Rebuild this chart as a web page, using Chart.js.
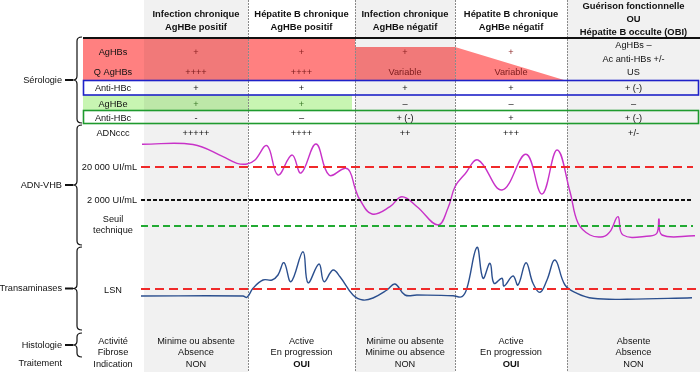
<!DOCTYPE html>
<html>
<head>
<meta charset="utf-8">
<script src="https://cdn.jsdelivr.net/npm/chart.js@4.4.0/dist/chart.umd.min.js"></script>
<style>
html, body { margin: 0; padding: 0; background: #fff; }
#wrap { width: 700px; height: 372px; }
</style>
</head>
<body>
<div id="wrap"><canvas id="myChart" width="700" height="372"></canvas></div>
<script>
// entetes des colonnes (phases)
var headers = [
    ["Infection chronique", "AgHBe positif"],
    ["Hépatite B chronique", "AgHBe positif"],
    ["Infection chronique", "AgHBe négatif"],
    ["Hépatite B chronique", "AgHBe négatif"],
    ["Guérison fonctionnelle", "OU", "Hépatite B occulte (OBI)"]
];

// serologie
var rowLabels = ["AgHBs", "Q AgHBs", "Anti-HBc", "AgHBe", "Anti-HBc"];
var aghbs = ["+", "+", "+", "+"];
var qAghbs = ["++++", "++++", "Variable", "Variable"];
var antiHbc = ["+", "+", "+", "+", "+ (-)"];
var aghbe = ["+", "+", "–", "–", "–"];
var antiHbe = ["-", "–", "+ (-)", "+", "+ (-)"];
var obiSerologie = ["AgHBs –", "Ac anti-HBs +/-", "US"];
var adnccc = ["+++++", "++++", "++", "+++", "+/-"];

// histologie / traitement
var activite = ["Minime ou absente", "Active", "Minime ou absente", "Active", "Absente"];
var fibrose = ["Absence", "En progression", "Minime ou absence", "En progression", "Absence"];
var indication = ["NON", "OUI", "NON", "OUI", "NON"];

// courbe ADN-VHB (temps, niveau)
var adnT = [142, 193, 223, 237, 247, 255, 267, 278, 292, 301, 316, 329, 345, 350, 355, 360, 372, 390, 402, 417, 438, 448, 455, 465, 478, 502, 526, 542, 557, 570, 578, 590, 603, 610, 618, 623, 650, 657, 659, 662, 695];
var adnV = [144.3, 144.5, 156.7, 163.3, 164, 160, 145.7, 175, 155, 173, 144, 175, 168.3, 171.7, 188, 200, 214, 206.7, 196.7, 206.7, 225, 208, 186.7, 174, 160, 190, 154.3, 194, 150, 191.7, 223, 235, 236.7, 231.7, 216.7, 235, 236, 233, 219, 235, 235.7];

// courbe transaminases
var trT = [141, 243, 247, 253, 263, 272, 278, 284, 291, 303, 308, 319, 324, 333, 340, 353, 363, 373, 387, 395, 405, 417, 453, 462, 467, 477, 483, 490, 494, 502, 504, 513, 518, 526, 533, 540, 547, 555, 565, 577, 593, 627, 692];
var trV = [296, 296, 297.3, 288.3, 280, 280, 275, 262.7, 281.7, 251.7, 282.7, 264, 281.7, 270, 276.7, 295, 300, 298, 290, 284, 295, 295, 295.7, 296.7, 288, 247.3, 278.3, 263.3, 283.3, 278.3, 286, 276, 285, 262.7, 283.3, 292.3, 280, 260, 285, 293.3, 298.3, 299.3, 297.7];

// seuils
var seuilLabels = ["20 000 UI/mL", "2 000 UI/mL", "Seuil technique", "LSN"];
var seuilV = [167, 200, 226, 289];
var seuilStart = 141;
var seuilEnd = [693, 693, 693, 697];

// mise en page
var colEdges = [144, 248, 355, 455, 567, 700];
var labelX = 113;
var font = "'Liberation Sans', Arial, Helvetica, sans-serif";

function pts(xs, ys) {
    return xs.map(function (x, i) { return { x: x, y: ys[i] }; });
}

var seuilColors = ["#f02a2a", "#111111", "#22aa33", "#f02a2a"];
var seuilDash = [[9, 5], [4, 2], [7, 4], [9, 5]];

var datasets = [];
seuilV.forEach(function (v, i) {
    datasets.push({
        data: [{ x: seuilStart, y: v }, { x: seuilEnd[i], y: v }],
        borderColor: seuilColors[i],
        borderDash: seuilDash[i],
        borderWidth: 2,
        pointRadius: 0,
        order: 0
    });
});
datasets.push({
    data: pts(adnT, adnV),
    borderColor: "#c832c8",
    borderWidth: 1.4,
    pointRadius: 0,
    tension: 0.4,
    order: 1
});
datasets.push({
    data: pts(trT, trV),
    borderColor: "#2b4f8e",
    borderWidth: 1.4,
    pointRadius: 0,
    tension: 0.4,
    order: 1
});

// fond, tableau et textes
var backdrop = {
    id: "backdrop",
    beforeDatasetsDraw: function (chart) {
        var ctx = chart.ctx;
        var sx = chart.scales.x, sy = chart.scales.y;
        var px = function (v) { return sx.getPixelForValue(v); };
        var py = function (v) { return sy.getPixelForValue(v); };
        var colMid = function (i) { return px((colEdges[i] + colEdges[i + 1]) / 2); };

        ctx.save();
        ctx.fillStyle = "#fff";
        ctx.fillRect(px(0), py(0), px(700) - px(0), py(372) - py(0));

        // bande rouge AgHBs
        ctx.fillStyle = "#ff8080";
        ctx.beginPath();
        ctx.moveTo(px(83), py(38));
        ctx.lineTo(px(355), py(38));
        ctx.lineTo(px(355), py(47));
        ctx.lineTo(px(455), py(47));
        ctx.lineTo(px(564), py(80));
        ctx.lineTo(px(83), py(80));
        ctx.closePath();
        ctx.fill();
        // bande verte AgHBe
        ctx.fillStyle = "#c8f5b2";
        ctx.fillRect(px(83), py(95), px(352) - px(83), py(110) - py(95));

        // colonnes grises (voile transparent)
        ctx.fillStyle = "rgba(0,0,0,0.055)";
        [0, 2, 4].forEach(function (i) {
            ctx.fillRect(px(colEdges[i]), py(0), px(colEdges[i + 1]) - px(colEdges[i]), py(372) - py(0));
        });

        // separateurs pointilles
        ctx.strokeStyle = "#8a8a8a";
        ctx.lineWidth = 1;
        ctx.setLineDash([2, 1]);
        [1, 2, 3, 4].forEach(function (i) {
            ctx.beginPath();
            ctx.moveTo(px(colEdges[i]) + 0.5, py(0));
            ctx.lineTo(px(colEdges[i]) + 0.5, py(372));
            ctx.stroke();
        });
        ctx.setLineDash([]);

        // ligne noire du haut
        ctx.strokeStyle = "#111";
        ctx.lineWidth = 2;
        ctx.beginPath();
        ctx.moveTo(px(83), py(38));
        ctx.lineTo(px(700), py(38));
        ctx.stroke();

        // cadres bleu et vert
        ctx.lineWidth = 1.6;
        ctx.strokeStyle = "#1f22c8";
        ctx.strokeRect(px(83.5), py(80.5), px(698.5) - px(83.5), py(95) - py(80.5));
        ctx.strokeStyle = "#1f9a2e";
        ctx.strokeRect(px(83.5), py(110.5), px(698.5) - px(83.5), py(123.5) - py(110.5));

        // accolades
        ctx.strokeStyle = "#111";
        function brace(top, bottom) {
            var x = px(77), t = py(top), b = py(bottom), m = (t + b) / 2;
            ctx.lineWidth = 1.2;
            ctx.beginPath();
            ctx.moveTo(x + 5, t);
            ctx.quadraticCurveTo(x, t, x, t + 4);
            ctx.lineTo(x, m - 4);
            ctx.quadraticCurveTo(x, m, x - 4, m);
            ctx.quadraticCurveTo(x, m, x, m + 4);
            ctx.lineTo(x, b - 4);
            ctx.quadraticCurveTo(x, b, x + 5, b);
            ctx.stroke();
            ctx.lineWidth = 2;
            ctx.beginPath();
            ctx.moveTo(x - 12, m);
            ctx.lineTo(x - 4, m);
            ctx.stroke();
        }
        brace(37, 123);
        brace(125, 245);
        brace(247, 330);
        brace(333, 357);

        // textes
        ctx.textBaseline = "middle";
        function txt(s, x, y, align, color, bold) {
            ctx.font = (bold ? "bold 9.4px " : "9.2px ") + font;
            ctx.textAlign = align || "center";
            ctx.fillStyle = color || "#111";
            ctx.fillText(s, x, y);
        }

        // entetes
        headers.forEach(function (h, i) {
            var ys = h.length === 3 ? [6, 19, 32] : [14, 27];
            h.forEach(function (line, j) { txt(line, colMid(i), py(ys[j]), "center", "#111", true); });
        });

        // etiquettes de gauche
        txt("Sérologie", px(62), py(80), "right");
        txt("ADN-VHB", px(62), py(185), "right");
        txt("Transaminases", px(62), py(288), "right");
        txt("Histologie", px(62), py(345), "right");
        txt("Traitement", px(62), py(363), "right");

        var rowY = [52, 72, 88, 104, 118];
        rowLabels.forEach(function (l, i) { txt(l, px(labelX), py(rowY[i])); });
        txt("ADNccc", px(labelX), py(133));
        txt(seuilLabels[0], px(137), py(seuilV[0]), "right");
        txt(seuilLabels[1], px(137), py(seuilV[1]), "right");
        txt("Seuil", px(labelX), py(219));
        txt("technique", px(labelX), py(230));
        txt(seuilLabels[3], px(labelX), py(seuilV[3] + 1));
        txt("Activité", px(labelX), py(341));
        txt("Fibrose", px(labelX), py(352));
        txt("Indication", px(labelX), py(364));

        // cellules
        aghbs.forEach(function (v, i) { txt(v, colMid(i), py(rowY[0]), "center", "#8a1f1f"); });
        qAghbs.forEach(function (v, i) { txt(v, colMid(i), py(rowY[1]), "center", "#7a1a1a"); });
        antiHbc.forEach(function (v, i) { txt(v, colMid(i), py(rowY[2])); });
        aghbe.forEach(function (v, i) { txt(v, colMid(i), py(rowY[3]), "center", i < 2 ? "#3d7a2a" : "#111"); });
        antiHbe.forEach(function (v, i) { txt(v, colMid(i), py(rowY[4])); });
        obiSerologie.forEach(function (v, j) { txt(v, colMid(4), py([45, 59, 72][j])); });
        adnccc.forEach(function (v, i) { txt(v, colMid(i), py(133)); });
        activite.forEach(function (v, i) { txt(v, colMid(i), py(341)); });
        fibrose.forEach(function (v, i) { txt(v, colMid(i), py(352)); });
        indication.forEach(function (v, i) { txt(v, colMid(i), py(364), "center", "#111", v === "OUI"); });

        ctx.restore();
    }
};

var ctx = document.getElementById("myChart").getContext("2d");
var chart = new Chart(ctx, {
    type: "line",
    data: { datasets: datasets },
    plugins: [backdrop],
    options: {
        responsive: false,
        animation: false,
        devicePixelRatio: 1,
        layout: { padding: 0 },
        plugins: { legend: { display: false }, tooltip: { enabled: false } },
        scales: {
            x: { type: "linear", min: 0, max: 700, display: false },
            y: { type: "linear", min: 0, max: 372, reverse: true, display: false }
        }
    }
});
</script>
</body>
</html>
